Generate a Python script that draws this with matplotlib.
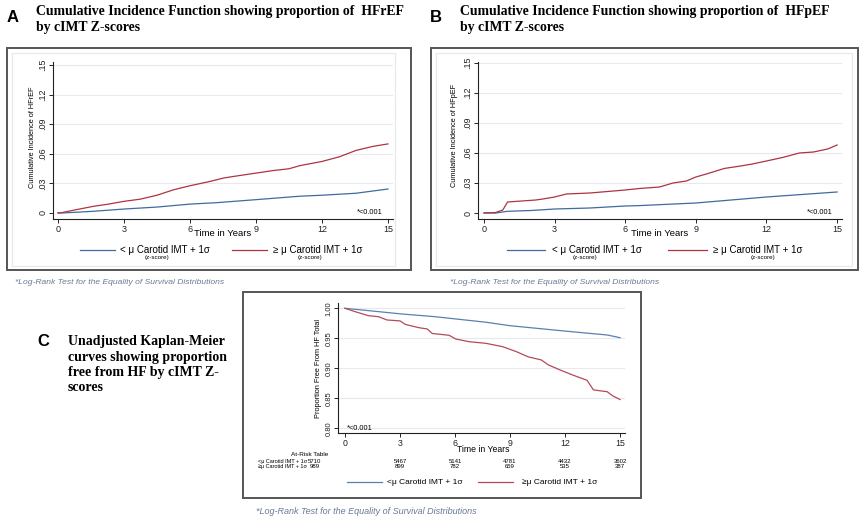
import matplotlib
matplotlib.use("Agg")
import matplotlib.pyplot as plt
from matplotlib.patches import Rectangle
from matplotlib.lines import Line2D

# ---------------- data ----------------
# Panel A: cumulative incidence of HFrEF
a_hi_t = [0, 0.2, 0.84, 1.6, 2.3, 3.0, 3.74, 4.5, 5.27, 6.0, 6.5, 6.92, 7.52, 7.97,
          9.0, 9.78, 10.5, 11.0, 12.0, 12.8, 13.55, 14.3, 15.0]
a_hi_v = [0, 0.0005, 0.0034, 0.0067, 0.009, 0.0118, 0.014, 0.018, 0.0236, 0.0276,
          0.030, 0.032, 0.0354, 0.037, 0.0404, 0.043, 0.0448, 0.048, 0.0522, 0.057,
          0.0634, 0.0674, 0.070]
a_lo_t = [0, 0.2, 1.6, 3.0, 4.5, 6.0, 7.25, 9.0, 11.0, 12.0, 13.55, 15.0]
a_lo_v = [0, 0.0, 0.0017, 0.004, 0.006, 0.009, 0.0105, 0.0135, 0.017, 0.018, 0.020, 0.0243]

# Panel B: cumulative incidence of HFpEF
b_hi_t = [0, 0.5, 0.8, 1.0, 2.2, 2.5, 3.0, 3.5, 4.5, 5.5, 6.0, 6.6, 7.46, 8.03, 8.6,
          9.0, 9.45, 10.2, 10.9, 11.4, 12.0, 12.7, 13.4, 14.0, 14.6, 15.0]
b_hi_v = [0, 0.0005, 0.003, 0.011, 0.013, 0.014, 0.016, 0.019, 0.020, 0.022, 0.023,
          0.0245, 0.026, 0.030, 0.032, 0.036, 0.039, 0.0445, 0.047, 0.049, 0.052,
          0.0556, 0.060, 0.061, 0.064, 0.068]
b_lo_t = [0, 0.5, 1.0, 2.0, 3.0, 4.5, 6.0, 6.6, 9.0, 12.0, 15.0]
b_lo_v = [0, 0.0, 0.0017, 0.0025, 0.004, 0.005, 0.007, 0.0074, 0.010, 0.016, 0.021]

# Panel C: Kaplan-Meier proportion free from HF
c_hi_t = [0, 0.55, 1.28, 1.83, 2.29, 3.0, 3.3, 4.03, 4.49, 4.76, 5.68, 6.04, 6.78,
          7.69, 8.6, 9.35, 10.0, 10.7, 11.1, 11.75, 12.4, 13.2, 13.55, 14.3, 14.6, 15.0]
c_hi_v = [1.0, 0.9944, 0.9877, 0.986, 0.9805, 0.979, 0.973, 0.9677, 0.9655, 0.958,
          0.955, 0.9488, 0.9443, 0.9416, 0.936, 0.9277, 0.919, 0.914, 0.9055, 0.897,
          0.889, 0.880, 0.864, 0.861, 0.854, 0.848]
c_lo_t = [0, 3.1, 4.9, 7.7, 9.0, 12.0, 14.3, 15.0]
c_lo_v = [1.0, 0.9905, 0.986, 0.9767, 0.971, 0.962, 0.9555, 0.951]

x_ticks = [0, 3, 6, 9, 12, 15]
ci_yticks = [0, 0.03, 0.06, 0.09, 0.12, 0.15]
ci_ylabels = ["0", ".03", ".06", ".09", ".12", ".15"]
km_yticks = [0.80, 0.85, 0.90, 0.95, 1.00]
km_ylabels = ["0.80", "0.85", "0.90", "0.95", "1.00"]

risk_times = [0, 3, 6, 9, 12, 15]
risk_lo = ["5710", "5467", "5141", "4781", "4432", "3602"]
risk_hi = ["989", "899", "782", "659", "535", "387"]

# ---------------- styling ----------------
W, H = 864, 520
BLUE = "#3f6b9e"
RED = "#ad3442"
FOOT = "#6a7a94"
SANS = "Liberation Sans"
SERIF = "Liberation Serif"

fig = plt.figure(figsize=(W / 100, H / 100), dpi=100)
fig.patch.set_facecolor("white")


def rect(l, t, r, b):
    return [l / W, 1 - b / H, (r - l) / W, (b - t) / H]


def ftext(x, y, s, **kw):
    kw.setdefault("family", SANS)
    return fig.text(x / W, 1 - y / H, s, **kw)


def box(l, t, r, b, color, lw):
    fig.add_artist(Rectangle((l / W, 1 - b / H), (r - l) / W, (b - t) / H,
                             transform=fig.transFigure, fill=False,
                             edgecolor=color, linewidth=lw))


def legend_key(x0, x1, y, color):
    fig.add_artist(Line2D([x0 / W, x1 / W], [1 - y / H, 1 - y / H],
                          transform=fig.transFigure, color=color, lw=0.9))


def style_ci(ax, xlim, ylim):
    ax.set_xlim(*xlim)
    ax.set_ylim(*ylim)
    for s in ("top", "right"):
        ax.spines[s].set_visible(False)
    for s in ("left", "bottom"):
        ax.spines[s].set_color("#222222")
        ax.spines[s].set_linewidth(0.8)
    ax.set_xticks(x_ticks)
    ax.set_xticklabels([str(v) for v in x_ticks], fontsize=6.5, family=SANS)
    ax.set_yticks(ci_yticks)
    ax.set_yticklabels(ci_ylabels, fontsize=6.5, family=SANS, rotation=90, va="center")
    ax.tick_params(direction="out", length=3, width=0.7, pad=1, colors="#222222")
    for yv in ci_yticks[1:]:
        ax.axhline(yv, color="#e6eaee", lw=0.8, zorder=0)
    ax.set_facecolor("white")


# ---------------- Panel A ----------------
box(7, 48, 411, 270, "#555555", 1.4)
box(12, 53, 395, 266, "#e3e8ec", 0.8)
axA = fig.add_axes(rect(53, 61.7, 393, 219))
style_ci(axA, (-0.227, 15.23), (-0.0061, 0.1533))
axA.plot(a_lo_t, a_lo_v, color=BLUE, lw=0.9)
axA.plot(a_hi_t, a_hi_v, color=RED, lw=0.9)
ftext(32, 137, "Cumulative Incidence of HFrEF", fontsize=5.3, rotation=90,
      ha="center", va="center")
ftext(223, 234, "Time in Years", fontsize=6.8, ha="center", va="center")
ftext(383, 212, "*<0.001", fontsize=5.3, ha="right", va="center")
legend_key(80, 115, 250, BLUE)
ftext(120, 250, "< \u03bc Carotid IMT + 1\u03c3", fontsize=7, va="center")
ftext(157, 257.5, "(z-score)", fontsize=4.5, ha="center", va="center")
legend_key(232, 267, 250, RED)
ftext(273, 250, "\u2265 \u03bc Carotid IMT + 1\u03c3", fontsize=7, va="center")
ftext(310, 257.5, "(z-score)", fontsize=4.5, ha="center", va="center")
ftext(15, 283, "*Log-Rank Test for the Equality of Survival Distributions",
      fontsize=6.1, style="italic", color=FOOT, va="center")

ftext(7, 17, "A", fontsize=12, weight="bold", va="center")
ftext(36, 11, "Cumulative Incidence Function showing proportion of  HFrEF",
      family=SERIF, fontsize=9.9, weight="bold", va="center")
ftext(36, 28, "by cIMT Z-scores", family=SERIF, fontsize=9.9, weight="bold", va="center")

# ---------------- Panel B ----------------
box(431, 48, 858, 270, "#555555", 1.4)
box(436, 53, 852, 266, "#e3e8ec", 0.8)
axB = fig.add_axes(rect(478, 61.7, 842, 219.3))
style_ci(axB, (-0.255, 15.21), (-0.0063, 0.1513))
axB.plot(b_lo_t, b_lo_v, color=BLUE, lw=0.9)
axB.plot(b_hi_t, b_hi_v, color=RED, lw=0.9)
ftext(455, 135, "Cumulative Incidence of HFpEF", fontsize=5.3, rotation=90,
      ha="center", va="center")
ftext(660, 234, "Time in Years", fontsize=6.8, ha="center", va="center")
ftext(833, 212, "*<0.001", fontsize=5.3, ha="right", va="center")
legend_key(507, 545, 250, BLUE)
ftext(552, 250, "< \u03bc Carotid IMT + 1\u03c3", fontsize=7, va="center")
ftext(585, 257.5, "(z-score)", fontsize=4.5, ha="center", va="center")
legend_key(668, 707, 250, RED)
ftext(713, 250, "\u2265 \u03bc Carotid IMT + 1\u03c3", fontsize=7, va="center")
ftext(763, 257.5, "(z-score)", fontsize=4.5, ha="center", va="center")
ftext(450, 283, "*Log-Rank Test for the Equality of Survival Distributions",
      fontsize=6.1, style="italic", color=FOOT, va="center")

ftext(430, 17, "B", fontsize=12, weight="bold", va="center")
ftext(460, 11, "Cumulative Incidence Function showing proportion of  HFpEF",
      family=SERIF, fontsize=9.9, weight="bold", va="center")
ftext(460, 28, "by cIMT Z-scores", family=SERIF, fontsize=9.9, weight="bold", va="center")

# ---------------- Panel C ----------------
box(243, 292, 641, 498, "#555555", 1.4)
axC = fig.add_axes(rect(338, 303, 625, 433))
axC.set_xlim(-0.38, 15.27)
axC.set_ylim(0.7922, 1.0088)
for s in ("top", "right"):
    axC.spines[s].set_visible(False)
for s in ("left", "bottom"):
    axC.spines[s].set_color("#222222")
    axC.spines[s].set_linewidth(0.8)
axC.set_xticks(x_ticks)
axC.set_xticklabels([str(v) for v in x_ticks], fontsize=6.3, family=SANS)
axC.set_yticks(km_yticks)
axC.set_yticklabels(km_ylabels, fontsize=5.5, family=SANS, rotation=90, va="center")
axC.tick_params(direction="out", length=3, width=0.7, pad=1, colors="#222222")
for yv in km_yticks:
    axC.axhline(yv, color="#e6eaee", lw=0.8, zorder=0)
axC.plot(c_lo_t, c_lo_v, color="#5a80b0", lw=0.9)
axC.plot(c_hi_t, c_hi_v, color="#b24a5a", lw=0.9)
axC.text(0.1, 0.8, "*<0.001", fontsize=5.3, family=SANS, va="center")
ftext(318, 368, "Proportion Free From HF Total", fontsize=5.3, rotation=90,
      ha="center", va="center")
ftext(483, 449.5, "Time in Years", fontsize=6.2, ha="center", va="center")

# at-risk table
ftext(310, 455, "At-Risk Table", fontsize=4.6, ha="center", va="center")
ftext(307, 461.5, "<\u03bc Carotid IMT + 1\u03c3", fontsize=4.0, ha="right", va="center")
ftext(307, 466.5, "\u2265\u03bc Carotid IMT + 1\u03c3", fontsize=4.0, ha="right", va="center")
to_fig = axC.transData + fig.transFigure.inverted()
for i, t in enumerate(risk_times):
    xf = to_fig.transform((t, 1.0))[0]
    if i == 0:
        xf -= 30 / W
    fig.text(xf, 1 - 461.5 / H, risk_lo[i], fontsize=4.3, family=SANS,
             ha="center", va="center")
    fig.text(xf, 1 - 466.5 / H, risk_hi[i], fontsize=4.3, family=SANS,
             ha="center", va="center")

legend_key(347, 382, 482, "#5a80b0")
ftext(387, 482, "<\u03bc Carotid IMT + 1\u03c3", fontsize=6, va="center")
legend_key(478, 513, 482, "#b24a5a")
ftext(522, 482, "\u2265\u03bc Carotid IMT + 1\u03c3", fontsize=6, va="center")
ftext(256, 512, "*Log-Rank Test for the Equality of Survival Distributions",
      fontsize=6.5, style="italic", color=FOOT, va="center")

ftext(37, 342, "C", fontsize=12, weight="bold", va="center")
for k, line in enumerate(["Unadjusted Kaplan-Meier", "curves showing proportion",
                          "free from HF by cIMT Z-", "scores"]):
    ftext(68, 342 + 15.2 * k, line, family=SERIF, fontsize=10, weight="bold",
          va="center")

fig.savefig("out.png", dpi=100)
